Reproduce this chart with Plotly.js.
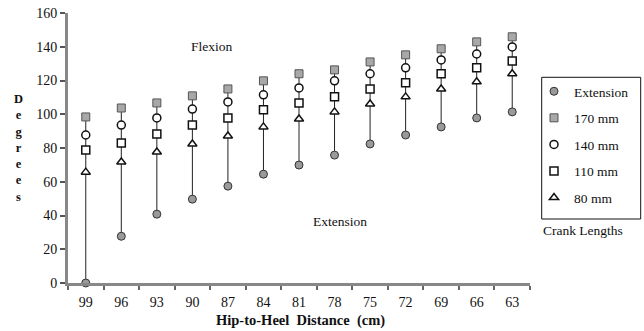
<!DOCTYPE html>
<html><head><meta charset="utf-8">
<script src="https://cdn.plot.ly/plotly-3.0.1.min.js"></script>
<style>body{margin:0;background:#fff}#chart{width:644px;height:331px}</style>
</head><body><div id="chart"></div>
<script>
const categories = ['99','96','93','90','87','84','81','78','75','72','69','66','63'];
const extension = [0, 27.7, 40.8, 49.7, 57.4, 64.5, 69.9, 75.8, 82.4, 87.7, 92.5, 97.8, 101.4];
const crank170 = [98.4, 103.7, 106.7, 110.9, 115.0, 119.8, 124.0, 126.3, 131.0, 135.2, 138.8, 142.9, 145.9];
const crank140 = [87.7, 93.6, 97.8, 103.1, 107.3, 111.5, 115.6, 119.8, 124.0, 127.5, 132.2, 135.7, 139.9];
const crank110 = [78.8, 83.0, 88.3, 93.6, 97.8, 102.6, 106.7, 110.3, 115.0, 118.6, 124.0, 127.5, 131.6];
const crank80  = [65.7, 71.7, 77.6, 82.4, 87.1, 92.5, 97.2, 101.4, 106.1, 110.3, 115.0, 119.2, 124.0];
const yTicks = [0, 20, 40, 60, 80, 100, 120, 140, 160];

const serif = 'Liberation Serif, Times New Roman, serif';
const L = 68, T = 13, W = 462, H = 270;
const px = v => (v - L) / W;
const py = v => (T + H - v) / H;

// vertical connector lines from extension to 170 mm
const lx = [], ly = [];
categories.forEach((c, i) => { lx.push(c, c, null); ly.push(extension[i], crank170[i], null); });

const traces = [
  {x: lx, y: ly, mode: 'lines', line: {color: '#222', width: 1}, showlegend: false, hoverinfo: 'skip', cliponaxis: false},
  {x: categories, y: extension, name: 'Extension', mode: 'markers', legendgroup: 'a', cliponaxis: false,
   marker: {symbol: 'circle', size: 8, color: '#9a9a9a', line: {color: '#333', width: 1}}},
  {x: categories, y: crank170, name: '170 mm', mode: 'markers', legendgroup: 'b', cliponaxis: false,
   marker: {symbol: 'square', size: 8, color: '#a8a8a8', line: {color: '#555', width: 1}}},
  {x: categories, y: crank140, name: '140 mm', mode: 'markers', legendgroup: 'c', cliponaxis: false,
   marker: {symbol: 'circle', size: 8, color: '#fff', line: {color: '#111', width: 1.5}}},
  {x: categories, y: crank110, name: '110 mm', mode: 'markers', legendgroup: 'd', cliponaxis: false,
   marker: {symbol: 'square', size: 8, color: '#fff', line: {color: '#111', width: 1.5}}},
  {x: categories, y: crank80, name: '80 mm', mode: 'markers', legendgroup: 'e', cliponaxis: false,
   marker: {symbol: 'triangle-up', size: 8, color: '#fff', line: {color: '#111', width: 1.5}}}
];

const layout = {
  width: 644, height: 331,
  margin: {l: 68, r: 114, t: 13, b: 48, autoexpand: false},
  paper_bgcolor: '#fff', plot_bgcolor: '#fff',
  font: {family: serif, size: 14, color: '#111'},
  showlegend: true,
  legend: {x: px(534), y: py(76), xanchor: 'left', yanchor: 'top', borderwidth: 0,
    font: {family: serif, size: 13.5, color: '#111'}, traceorder: 'grouped', tracegroupgap: 6, bgcolor: 'rgba(0,0,0,0)'},
  xaxis: {type: 'category', categoryorder: 'array', categoryarray: categories, range: [-0.5, 12.5],
    showgrid: false, zeroline: false, showline: true, linecolor: '#888', linewidth: 3,
    ticks: 'outside', tickson: 'boundaries', ticklen: 4, tickwidth: 2, tickcolor: '#666',
    ticklabelstandoff: 4, tickfont: {family: serif, size: 14}, fixedrange: true},
  yaxis: {range: [0, 160], tickvals: yTicks, ticktext: yTicks.map(String),
    showgrid: false, zeroline: false, showline: true, linecolor: '#888', linewidth: 3,
    ticks: 'outside', ticklen: 5, tickwidth: 2, tickcolor: '#555',
    tickfont: {family: serif, size: 14}, fixedrange: true},
  shapes: [
    {type: 'rect', xref: 'paper', yref: 'paper', x0: px(541.7), x1: px(640.7), y0: py(219), y1: py(77.3),
     line: {color: '#111', width: 1}, fillcolor: 'rgba(0,0,0,0)', layer: 'below'}
  ],
  annotations: [
    {text: 'Flexion', xref: 'paper', yref: 'paper', x: px(212), y: py(47), xanchor: 'center', yanchor: 'middle',
     showarrow: false, font: {family: serif, size: 13.5}},
    {text: 'Extension', xref: 'paper', yref: 'paper', x: px(340), y: py(221), xanchor: 'center', yanchor: 'middle',
     showarrow: false, font: {family: serif, size: 13.5}},
    {text: 'Crank Lengths', xref: 'paper', yref: 'paper', x: px(541), y: py(231), xanchor: 'left', yanchor: 'middle',
     showarrow: false, font: {family: serif, size: 13.5}},
    {text: '<b>D<br>e<br>g<br>r<br>e<br>e<br>s</b>', xref: 'paper', yref: 'paper', x: px(18), y: py(148),
     xanchor: 'center', yanchor: 'middle', showarrow: false, font: {family: serif, size: 12.5}},
    {text: '<b>Hip-to-Heel\u00a0\u00a0Distance\u00a0\u00a0(cm)</b>', xref: 'paper', yref: 'paper', x: px(300), y: py(320),
     xanchor: 'center', yanchor: 'middle', showarrow: false, font: {family: serif, size: 14.5}}
  ]
};

Plotly.newPlot('chart', traces, layout, {displayModeBar: false, staticPlot: true});
</script></body></html>
